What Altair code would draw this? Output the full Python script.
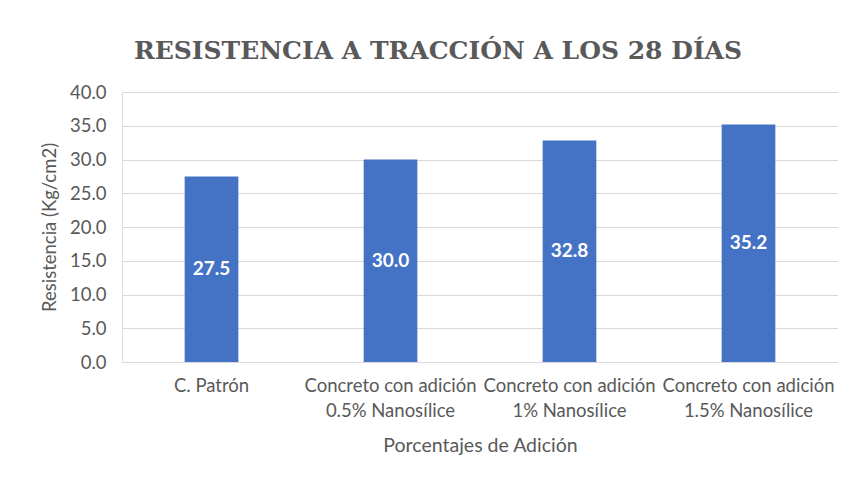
import altair as alt
import pandas as pd

categorias = ["C. Patrón",
              "Concreto con adición|0.5% Nanosílice",
              "Concreto con adición|1% Nanosílice",
              "Concreto con adición|1.5% Nanosílice"]
valores = [27.5, 30.0, 32.8, 35.2]
ticks_y = [0, 5, 10, 15, 20, 25, 30, 35, 40]

df = pd.DataFrame({"cat": categorias, "val": valores})

FONT = "Lato"
GRAY = "#595959"

x_enc = alt.X("cat:N", sort=categorias, title="Porcentajes de Adición",
              scale=alt.Scale(paddingInner=0.7, paddingOuter=0.35),
              axis=alt.Axis(labelAngle=0, labelExpr="split(datum.label, '|')",
                            labelFont=FONT, labelFontSize=18.5, labelColor=GRAY,
                            labelLineHeight=25, labelPadding=14,
                            titleFont=FONT, titleFontSize=19.5, titleColor=GRAY,
                            titleFontWeight="normal", titlePadding=17,
                            ticks=False, domainColor="#d9d9d9", grid=False))

y_axis = alt.Axis(values=ticks_y, format=".1f", labelOverlap=False,
                  labelFont=FONT, labelFontSize=18.5, labelColor=GRAY,
                  labelPadding=16,
                  titleFont=FONT, titleFontSize=18.5, titleColor=GRAY,
                  titleFontWeight="normal", titlePadding=10,
                  ticks=False, domain=False, gridColor="#d9d9d9")
y_scale = alt.Scale(domain=[0, 40])

bars = alt.Chart(df).mark_bar(color="#4472C4").encode(
    x=x_enc,
    y=alt.Y("val:Q", title="Resistencia (Kg/cm2)", scale=y_scale, axis=y_axis),
)

labels = alt.Chart(df).mark_text(color="white", fontWeight="bold", font=FONT,
                                 fontSize=19).encode(
    x=x_enc,
    y=alt.Y("mid:Q", title="Resistencia (Kg/cm2)", scale=y_scale, axis=y_axis),
    text=alt.Text("val:Q", format=".1f"),
).transform_calculate(mid="datum.val / 2")

chart = (bars + labels).properties(
    width=716, height=270,
    autosize=alt.AutoSizeParams(type="none"),
    padding={"left": 114, "top": 84, "right": 0, "bottom": 100},
    title=alt.TitleParams("RESISTENCIA A TRACCIÓN A LOS 28 DÍAS",
                          font="DejaVu Serif", fontSize=25, fontWeight="bold",
                          color=GRAY, anchor="middle", offset=19, dx=-42),
).configure_view(stroke=None).configure(background="white")

chart.save("out.html", embed_options={"renderer": "svg", "actions": False})
